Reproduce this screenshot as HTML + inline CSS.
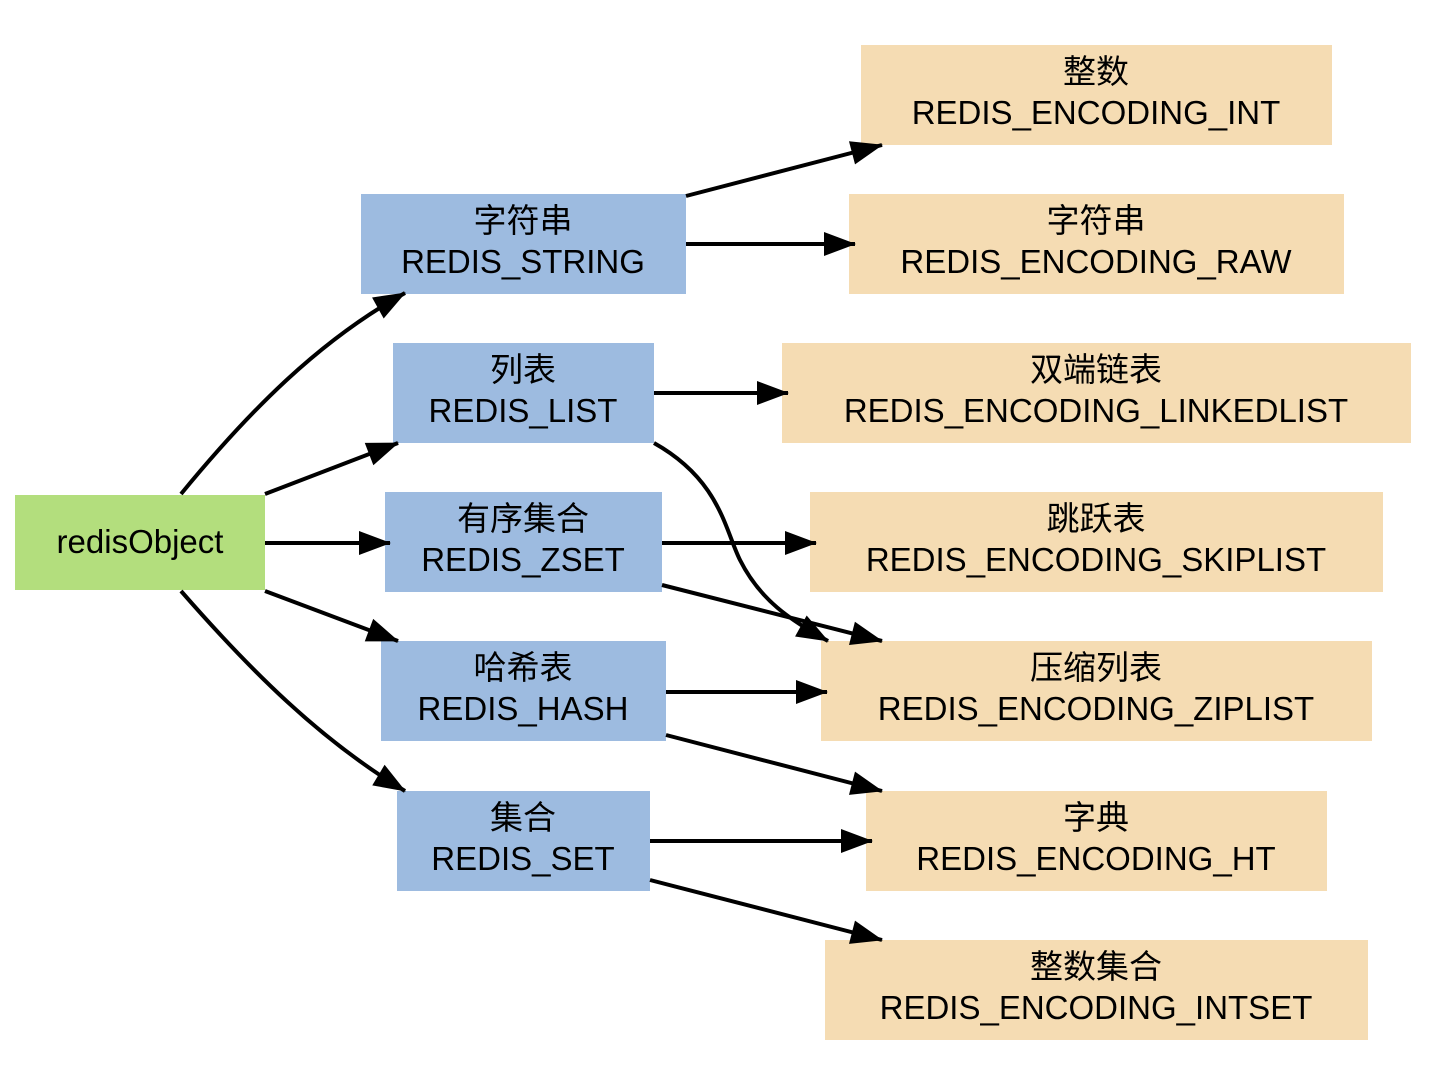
<!DOCTYPE html>
<html><head><meta charset="utf-8"><style>
html,body{margin:0;padding:0;background:#fff;}
text{font-family:"Liberation Sans","Noto Sans CJK SC",sans-serif;font-size:33px;fill:#000;text-anchor:middle;}
</style></head><body>
<svg width="1450" height="1066" viewBox="0 0 1450 1066" xmlns="http://www.w3.org/2000/svg">
<defs><marker id="a" markerWidth="10" markerHeight="8" refX="9" refY="4" orient="auto" markerUnits="userSpaceOnUse" viewBox="0 0 10 8" style="overflow:visible">
<path d="M-22,-8 L10,4 L-22,16 Z" fill="#000"/></marker></defs>
<g fill="#b3de7d"><rect x="15" y="495" width="250" height="95"/></g>
<g fill="#9dbbe0">
<rect x="361" y="194" width="325" height="100"/>
<rect x="393" y="343" width="261" height="100"/>
<rect x="385" y="492" width="277" height="100"/>
<rect x="381" y="641" width="285" height="100"/>
<rect x="397" y="791" width="253" height="100"/>
</g>
<g fill="#f5dcb3">
<rect x="861" y="45" width="471" height="100"/>
<rect x="849" y="194" width="495" height="100"/>
<rect x="782" y="343" width="629" height="100"/>
<rect x="810" y="492" width="573" height="100"/>
<rect x="821" y="641" width="551" height="100"/>
<rect x="866" y="791" width="461" height="100"/>
<rect x="825" y="940" width="543" height="100"/>
</g>
<text x="140" y="553">redisObject</text>
<text x="523" y="232">字符串</text><text x="523" y="273">REDIS_STRING</text>
<text x="523" y="381">列表</text><text x="523" y="422">REDIS_LIST</text>
<text x="523" y="530">有序集合</text><text x="523" y="571">REDIS_ZSET</text>
<text x="523" y="679">哈希表</text><text x="523" y="720">REDIS_HASH</text>
<text x="523" y="829">集合</text><text x="523" y="870">REDIS_SET</text>
<text x="1096" y="83">整数</text><text x="1096" y="124">REDIS_ENCODING_INT</text>
<text x="1096" y="232">字符串</text><text x="1096" y="273">REDIS_ENCODING_RAW</text>
<text x="1096" y="381">双端链表</text><text x="1096" y="422">REDIS_ENCODING_LINKEDLIST</text>
<text x="1096" y="530">跳跃表</text><text x="1096" y="571">REDIS_ENCODING_SKIPLIST</text>
<text x="1096" y="679">压缩列表</text><text x="1096" y="720">REDIS_ENCODING_ZIPLIST</text>
<text x="1096" y="829">字典</text><text x="1096" y="870">REDIS_ENCODING_HT</text>
<text x="1096" y="978">整数集合</text><text x="1096" y="1019">REDIS_ENCODING_INTSET</text>
<g stroke="#000" stroke-width="4" fill="none" marker-end="url(#a)">
<path d="M181,494 C250,410 320,340 405,293"/>
<path d="M265,494 L398,443"/>
<path d="M265,543 L390,543"/>
<path d="M265,591 L398,641"/>
<path d="M181,591 C250,670 320,740 405,791"/>
<path d="M686,196 L882,145"/>
<path d="M686,244 L855,244"/>
<path d="M654,393 L788,393"/>
<path d="M654,443 C720,480 725,530 740,560 C760,600 790,620 828,641"/>
<path d="M662,543 L816,543"/>
<path d="M662,585 L882,641"/>
<path d="M666,692 L827,692"/>
<path d="M666,735 L882,791"/>
<path d="M650,841 L872,841"/>
<path d="M650,880 L882,940"/>
</g>
</svg>
</body></html>
